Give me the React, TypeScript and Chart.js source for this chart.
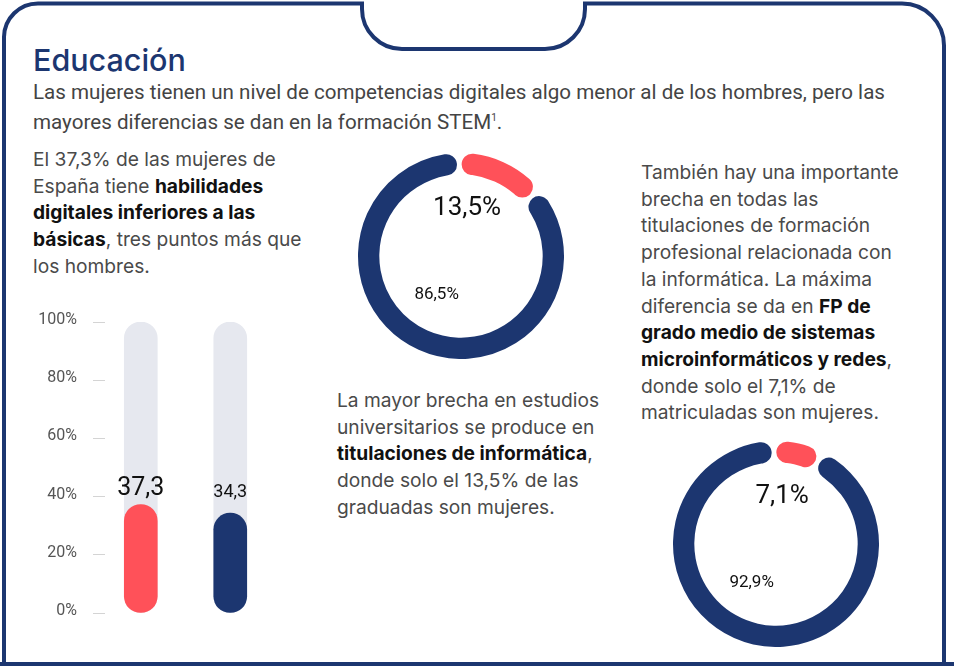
import React, { useEffect, useRef } from "react";
import { Chart, registerables } from "chart.js";

Chart.register(...registerables);

// ---------- data ----------
const barCategories = ["Mujeres", "Hombres"];
const barValues = [37.3, 34.3];
const barTrackValues = [100, 100];
const yTickValues = [0, 20, 40, 60, 80, 100];

const uniCategories = ["Mujeres", "Hombres"];
const uniValues = [13.5, 86.5];

const fpCategories = ["Mujeres", "Hombres"];
const fpValues = [7.1, 92.9];

// ---------- styles ----------
const NAVY = "#1c3670";
const RED = "#ff5159";
const TRACK = "#e6e8ef";
const fmt = (v: number) => v.toFixed(1).replace(".", ",");

const barLabelPlugin = {
  id: "barLabels",
  afterDatasetsDraw(chart: any) {
    const meta = chart.getDatasetMeta(0);
    const ctx = chart.ctx;
    const sizes = [25, 18];
    const gaps = [9, 16];
    ctx.save();
    ctx.fillStyle = "#111";
    ctx.textAlign = "center";
    ctx.textBaseline = "alphabetic";
    meta.data.forEach((el: any, i: number) => {
      ctx.font = `400 ${sizes[i]}px Roboto`;
      ctx.fillText(fmt(barValues[i]), el.x, el.y - gaps[i]);
    });
    ctx.restore();
  },
};

const makeDonutLabelPlugin = (values: number[]) => ({
  id: "donutLabels",
  afterDatasetsDraw(chart: any) {
    const meta = chart.getDatasetMeta(0);
    const arc = meta.data[0];
    const R = arc.outerRadius;
    const cx = arc.x;
    const cy = arc.y;
    const ctx = chart.ctx;
    ctx.save();
    ctx.fillStyle = "#111";
    ctx.textAlign = "center";
    ctx.textBaseline = "middle";
    ctx.font = "400 26px Roboto";
    ctx.fillText(fmt(values[0]) + "%", cx + 0.06 * R, cy - 0.47 * R);
    ctx.font = "400 17px Roboto";
    ctx.fillText(fmt(values[1]) + "%", cx - 0.24 * R, cy + 0.38 * R);
    ctx.restore();
  },
});

function BarChart() {
  const ref = useRef<HTMLCanvasElement>(null);
  useEffect(() => {
    const chart = new Chart(ref.current!, {
      type: "bar",
      data: {
        labels: barCategories,
        datasets: [
          {
            data: barValues.map((v, i) => ({ x: i, y: v })),
            backgroundColor: [RED, NAVY],
            grouped: false,
            order: 0,
            barThickness: 33,
            maxBarThickness: 33,
            borderRadius: 17,
            borderSkipped: false,
          } as any,
          {
            data: barTrackValues.map((v, i) => ({ x: i, y: v })),
            backgroundColor: TRACK,
            grouped: false,
            order: 1,
            barThickness: 33,
            maxBarThickness: 33,
            borderRadius: 17,
            borderSkipped: false,
          } as any,
        ],
      },
      options: {
        animation: false,
        responsive: false,
        maintainAspectRatio: false,
        layout: { padding: { top: 26, bottom: 26, left: 0, right: 15 } },
        plugins: { legend: { display: false }, tooltip: { enabled: false } },
        scales: {
          x: { type: "linear", min: -0.4, max: 1.5, display: false, offset: false, grid: { offset: false } },
          y: {
            min: 0,
            max: 100,
            afterBuildTicks: (s: any) => {
              s.ticks = yTickValues.map((v) => ({ value: v }));
            },
            afterFit: (s: any) => {
              s.width = 85;
            },
            border: { display: false },
            grid: {
              drawOnChartArea: false,
              drawTicks: true,
              tickLength: 12,
              color: "#d4d4d4",
            },
            ticks: {
              padding: 16,
              labelOffset: -2,
              color: "#555",
              font: { family: "Roboto", size: 16 },
              callback: (v: any) => v + "%",
            },
          },
        },
      } as any,
      plugins: [barLabelPlugin],
    });
    return () => chart.destroy();
  }, []);
  return (
    <canvas
      ref={ref}
      width={270}
      height={343}
      style={{ position: "absolute", left: 20, top: 296, width: 270, height: 343 }}
    />
  );
}

function Donut({ values, labels, left, top }: { values: number[]; labels: string[]; left: number; top: number }) {
  const ref = useRef<HTMLCanvasElement>(null);
  useEffect(() => {
    const chart = new Chart(ref.current!, {
      type: "doughnut",
      data: {
        labels,
        datasets: [
          {
            data: values,
            backgroundColor: [RED, NAVY],
            borderWidth: 0,
            borderRadius: 12,
            spacing: 3,
          } as any,
        ],
      },
      options: {
        animation: false,
        responsive: false,
        maintainAspectRatio: false,
        cutout: "79%",
        layout: { padding: 0 },
        plugins: { legend: { display: false }, tooltip: { enabled: false } },
      } as any,
      plugins: [makeDonutLabelPlugin(values)],
    });
    return () => chart.destroy();
  }, []);
  return (
    <canvas
      ref={ref}
      width={206}
      height={206}
      style={{ position: "absolute", left, top, width: 206, height: 206 }}
    />
  );
}

const para: React.CSSProperties = {
  position: "absolute",
  fontFamily: "Inter",
  fontSize: 19.2,
  lineHeight: "26.7px",
  color: "#4a4a4a",
  margin: 0,
  whiteSpace: "nowrap",
};
const B = ({ children }: { children: React.ReactNode }) => (
  <b style={{ color: "#111", fontWeight: 700 }}>{children}</b>
);

export default function App() {
  return (
    <div
      style={{
        position: "absolute",
        left: 0,
        top: 0,
        width: 954,
        height: 671,
        background: "#fff",
        overflow: "hidden",
      }}
    >
      <svg width={954} height={671} style={{ position: "absolute", left: 0, top: 0 }}>
        <path
          d="M 4 664 L 4 37 A 34 34 0 0 1 38 3.5 L 362 3.5 L 362 9 A 40 40 0 0 0 402 49 L 545 49 A 40 40 0 0 0 585 9 L 585 3.5 L 902 3.5 A 42 42 0 0 1 944 45.5 L 944 664"
          fill="none"
          stroke={NAVY}
          strokeWidth={4}
        />
        <line x1={0} y1={664} x2={954} y2={664} stroke={NAVY} strokeWidth={4} />
      </svg>

      <div
        style={{
          position: "absolute",
          left: 33,
          top: 45,
          fontFamily: "Inter",
          fontWeight: 500,
          fontSize: 30.5,
          lineHeight: "30px",
          color: NAVY,
          whiteSpace: "nowrap",
        }}
      >
        Educación
      </div>
      <div
        style={{
          position: "absolute",
          left: 33,
          top: 79,
          fontFamily: "Roboto",
          fontSize: 20.6,
          lineHeight: "26px",
          color: "#444",
          whiteSpace: "nowrap",
        }}
      >
        Las mujeres tienen un nivel de competencias digitales algo menor al de los hombres, pero las
        <br />
        mayores diferencias se dan en la formación STEM<sup style={{ fontSize: 10 }}>1</sup>.
      </div>

      <div style={{ ...para, left: 33, top: 146 }}>
        El 37,3% de las mujeres de
        <br />
        España tiene <B>habilidades</B>
        <br />
        <B>digitales inferiores a las</B>
        <br />
        <B>básicas</B>, tres puntos más que
        <br />
        los hombres.
      </div>

      <div style={{ ...para, left: 337, top: 387 }}>
        La mayor brecha en estudios
        <br />
        universitarios se produce en
        <br />
        <B>titulaciones de informática</B>,
        <br />
        donde solo el 13,5% de las
        <br />
        graduadas son mujeres.
      </div>

      <div style={{ ...para, left: 641, top: 159 }}>
        También hay una importante
        <br />
        brecha en todas las
        <br />
        titulaciones de formación
        <br />
        profesional relacionada con
        <br />
        la informática. La máxima
        <br />
        diferencia se da en <B>FP de</B>
        <br />
        <B>grado medio de sistemas</B>
        <br />
        <B>microinformáticos y redes</B>,
        <br />
        donde solo el 7,1% de
        <br />
        matriculadas son mujeres.
      </div>

      <BarChart />
      <Donut values={uniValues} labels={uniCategories} left={358} top={153} />
      <Donut values={fpValues} labels={fpCategories} left={673} top={441} />
    </div>
  );
}
